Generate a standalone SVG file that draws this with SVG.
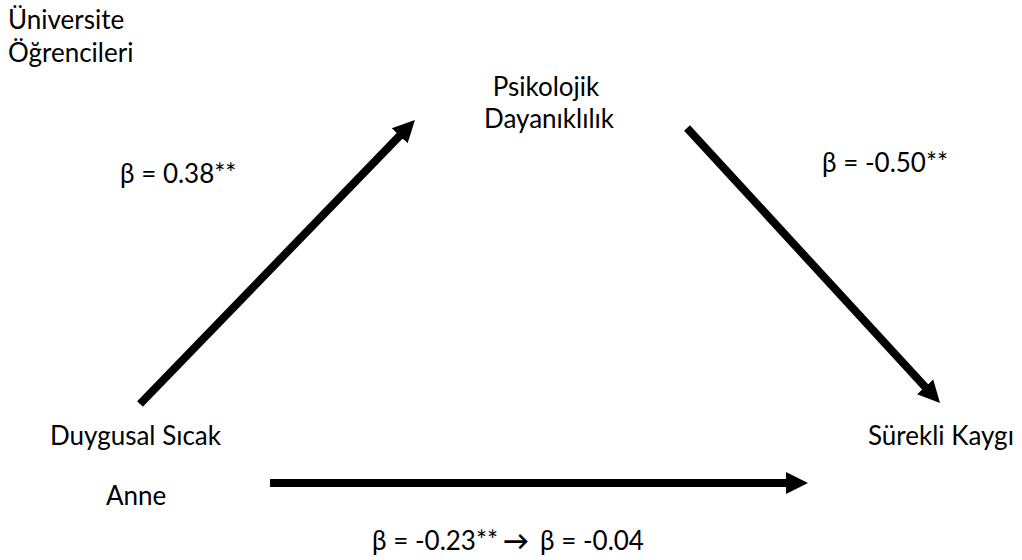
<svg xmlns="http://www.w3.org/2000/svg" width="1022" height="560" viewBox="0 0 1022 560">
<style>
text{font-family:Lato,"Open Sans","Liberation Sans",sans-serif;font-size:26px;fill:#000}
.c{text-anchor:middle}
.ar{stroke:#000;stroke-width:8;fill:none;marker-end:url(#ah)}
</style>
<defs>
<marker id="ah" markerUnits="userSpaceOnUse" viewBox="0 -12 24 24" refX="10" refY="0" markerWidth="24" markerHeight="24" orient="auto">
<path d="M0,-11 L22,0 L0,11 z" fill="#000"/>
</marker>
</defs>
<rect width="1022" height="560" fill="#fff"/>
<g id="title"><text x="8" y="29">Üniversite</text><text x="8" y="62">Öğrencileri</text></g>
<g id="node-psikolojik"><text class="c" x="546" y="96">Psikolojik</text><text class="c" x="549" y="128">Dayanıklılık</text></g>
<g id="node-anne"><text x="50" y="445">Duygusal Sıcak</text><text x="106" y="505">Anne</text></g>
<g id="node-kaygi"><text x="868" y="445">Sürekli Kaygı</text></g>
<g id="connectors">
<line class="ar" x1="140" y1="404" x2="406.6" y2="128.6"/>
<line class="ar" x1="687" y1="128" x2="931.9" y2="394.2"/>
<line class="ar" x1="270" y1="483" x2="796" y2="483"/>
</g>
<g id="labels">
<text x="120" y="183">β = 0.38**</text>
<text x="822" y="172">β = -0.50**</text>
<text y="550"><tspan x="372">β = -0.23**</tspan><tspan x="503" font-weight="bold">→</tspan><tspan x="540">β = -0.04</tspan></text>
</g>
</svg>
